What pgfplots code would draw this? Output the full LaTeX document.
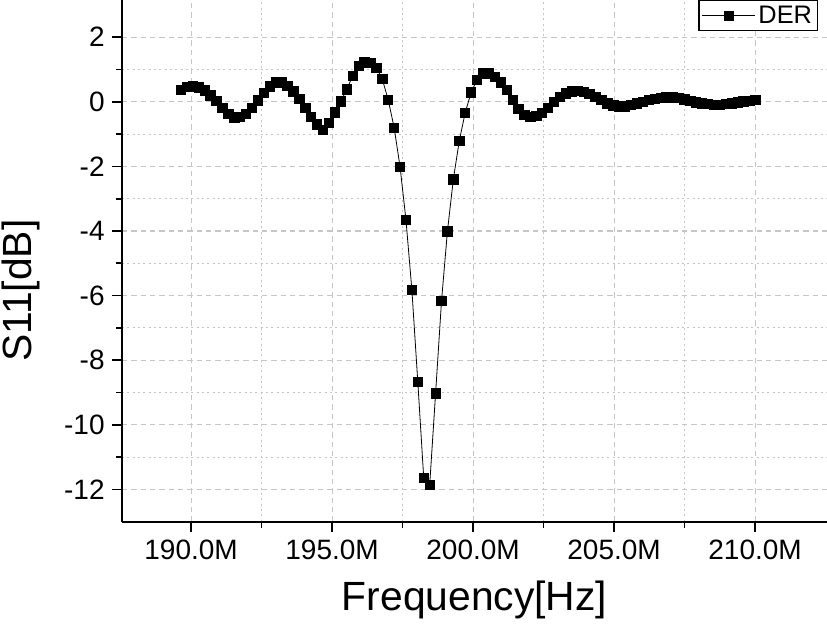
\documentclass[border=0pt]{standalone}
\usepackage{fontspec}
\setmainfont{Liberation Sans}
\usepackage{pgfplots}
\pgfplotsset{compat=1.18}
\usepackage{pgfplotstable}
\pgfplotstableread{
x y
189.64 0.36
189.85 0.46
190.06 0.48
190.27 0.44
190.48 0.35
190.69 0.20
190.90 0.02
191.11 -0.20
191.32 -0.38
191.53 -0.48
191.74 -0.47
191.95 -0.37
192.16 -0.18
192.37 0.04
192.58 0.27
192.79 0.48
193.00 0.60
193.21 0.60
193.42 0.50
193.63 0.32
193.84 0.08
194.05 -0.19
194.26 -0.46
194.47 -0.70
194.68 -0.87
194.89 -0.66
195.10 -0.33
195.31 0.01
195.52 0.38
195.73 0.80
195.94 1.12
196.15 1.22
196.36 1.20
196.57 1.05
196.78 0.70
196.99 0.06
197.20 -0.80
197.41 -2.01
197.62 -3.66
197.83 -5.83
198.04 -8.68
198.25 -11.65
198.46 -11.87
198.67 -9.03
198.88 -6.17
199.09 -4.01
199.30 -2.40
199.51 -1.21
199.72 -0.34
199.93 0.29
200.14 0.68
200.35 0.88
200.56 0.88
200.77 0.76
200.98 0.60
201.19 0.36
201.40 0.06
201.61 -0.22
201.82 -0.40
202.03 -0.46
202.24 -0.44
202.45 -0.34
202.66 -0.20
202.87 0.00
203.08 0.16
203.29 0.26
203.50 0.32
203.71 0.33
203.92 0.30
204.13 0.24
204.34 0.16
204.55 0.05
204.76 -0.05
204.97 -0.11
205.18 -0.14
205.39 -0.14
205.60 -0.10
205.81 -0.05
206.02 0.00
206.23 0.05
206.44 0.09
206.65 0.12
206.86 0.13
207.07 0.13
207.28 0.11
207.49 0.07
207.70 0.02
207.91 -0.02
208.12 -0.05
208.33 -0.07
208.54 -0.09
208.75 -0.09
208.96 -0.07
209.17 -0.05
209.38 -0.02
209.59 0.01
209.80 0.03
210.01 0.05
}\dataDER
\begin{document}
\begin{tikzpicture}
\begin{axis}[
  scale only axis,
  width=528.75pt, height=391.3pt,
  xmin=187.55, xmax=212.55,
  ymin=-13, ymax=3.15,
  axis x line*=bottom,
  axis y line*=left,
  axis line style={line width=1.3pt},
  xtick={190,195,200,205,210},
  xticklabels={190.0M,195.0M,200.0M,205.0M,210.0M},
  ytick={-12,-10,-8,-6,-4,-2,0,2},
  minor x tick num=1,
  minor y tick num=1,
  tick align=outside,
  major tick length=7.5pt,
  minor tick length=4.5pt,
  every tick/.style={black, line width=1.3pt},
  /pgf/number format/assume math mode=true,
  tick label style={font=\fontsize{21}{24}\selectfont},
  yticklabel style={xshift=-2pt},
  xticklabel style={yshift=-3pt},
  grid=both,
  major grid style={gray!45, line width=0.8pt, dash pattern=on 4pt off 3pt},
  minor grid style={gray!45, line width=0.8pt, dash pattern=on 1.5pt off 2.5pt},
  xlabel={Frequency[Hz]},
  ylabel={S11[dB]},
  label style={font=\fontsize{30.6}{36}\selectfont},
  xlabel style={at={(axis description cs:0.5,-0.15)}, anchor=center},
  ylabel style={at={(axis description cs:-0.143,0.443)}, anchor=center},
  legend style={at={(axis description cs:0.987,1)}, anchor=north east,
    draw=black, line width=0.8pt, fill=white,
    font=\fontsize{19}{22}\selectfont, inner sep=2pt},
  legend image code/.code={\draw[mark repeat=2,mark phase=2,#1] plot coordinates {(0pt,0pt)(20pt,0pt)(40pt,0pt)};},
]
\addplot[black, line width=0.6pt, mark=square*, mark size=3.5pt, mark options={solid, fill=black}] table[x=x,y=y] {\dataDER};
\addlegendentry{DER}
\end{axis}
\pgfresetboundingbox
\useasboundingbox ([shift={(-91.5pt,-84.2pt)}]current axis.south west) rectangle ++(620.25pt,475.5pt);
\end{tikzpicture}
\end{document}
